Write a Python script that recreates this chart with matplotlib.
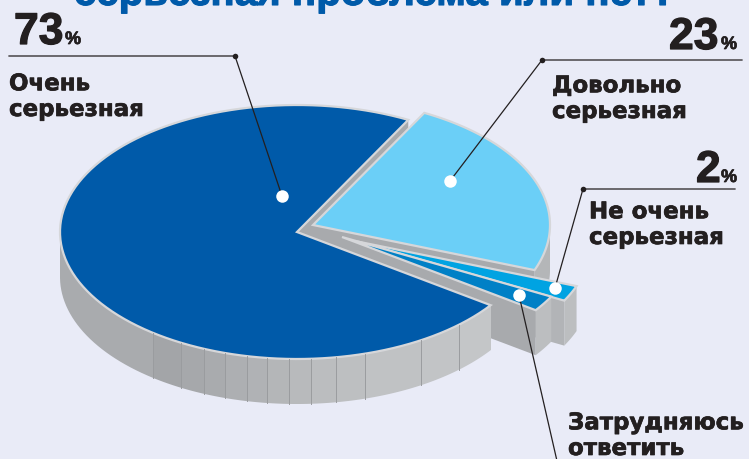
import numpy as np
import matplotlib
matplotlib.use('Agg')
import matplotlib.pyplot as plt
import matplotlib.patheffects as pe
from matplotlib.patches import Polygon

values = [23, 2, 2, 73]
labels = ['Довольно\nсерьезная', 'Не очень\nсерьезная', 'Затрудняюсь\nответить', 'Очень\nсерьезная']
top_colors = ['#6bcff7', '#00a3e2', '#0080c6', '#005aa9']
title = 'серьезная проблема или нет?'

BG = '#e9ebf7'
RIM = '#d6d7da'
FACE = '#a8aaad'
INK = '#231f20'

# ellipse of the pie on screen, in pixels
RX, RY = 237, 127
DEPTH = 45
START = 62
centers = [(313, 226), (355, 242), (342, 238), (297, 233)]

seams_x = [60, 153, 181, 204, 225, 247, 267, 289, 311, 336, 365, 421, 459, 491]
seam_greys = ['#a9abae', '#a3a5a8', '#a6a8ab', '#a9abae', '#adafb2', '#b0b2b5',
              '#b4b6b8', '#b8babc', '#bbbdbf', '#bdbfc1', '#c0c2c4', '#c2c4c6', '#c4c6c8']


def arc(cx, cy, t1, t2, n=120):
    t = np.radians(np.linspace(t1, t2, n))
    return np.column_stack([cx + RX*np.cos(t), cy - RY*np.sin(t)])


def extrude(pts):
    # strip of a line of points pushed down by the pie depth
    return np.vstack([pts, pts[::-1] + [0, DEPTH]])


def cut_face(cx, cy, t):
    return extrude(np.vstack([[cx, cy], arc(cx, cy, t, t, 1)]))


def top(ax, cx, cy, t1, t2, color):
    pts = np.vstack([[cx, cy], arc(cx, cy, t1, t2)])
    ax.add_patch(Polygon(pts, closed=True, fc=color, ec=RIM, lw=1.6, joinstyle='miter'))


fig = plt.figure(figsize=(7.49, 4.6), dpi=100, facecolor=BG)
ax = fig.add_axes([0, 0, 1, 1])
ax.set_xlim(0, 749)
ax.set_ylim(460, 0)
ax.axis('off')

# angles run clockwise from START
ends = START - np.cumsum(values)*3.6
starts = np.r_[START, ends[:-1]]

# cut face of the big slice, seen in the gap next to the light slice
cx, cy = centers[3]
ax.add_patch(Polygon(cut_face(cx, cy, START), fc=FACE, ec='none'))

# light slice
cx, cy = centers[0]
ax.add_patch(Polygon(extrude(arc(cx, cy, ends[0], 0, 40)), fc='#b4b6b8', ec='none'))
ax.add_patch(Polygon(cut_face(cx, cy, ends[0]), fc=FACE, ec='none'))
top(ax, cx, cy, starts[0], ends[0], top_colors[0])

# two small slices
for i in [1, 2]:
    cx, cy = centers[i]
    ax.add_patch(Polygon(cut_face(cx, cy, ends[i]), fc=FACE if i == 2 else '#b2b4b7', ec='none'))
    ax.add_patch(Polygon(extrude(arc(cx, cy, starts[i], ends[i], 12)), fc='#bcbec0', ec='none'))
    top(ax, cx, cy, starts[i], ends[i], top_colors[i])

# outer wall of the big slice, banded
cx, cy = centers[3]
for j in range(len(seam_greys)):
    x0 = max(seams_x[j], cx - RX + 0.01)
    x1 = seams_x[j + 1]
    t0 = -np.degrees(np.arccos(np.clip((x0 - cx)/RX, -1, 1)))
    t1 = -np.degrees(np.arccos(np.clip((x1 - cx)/RX, -1, 1)))
    ax.add_patch(Polygon(extrude(arc(cx, cy, t0, t1, 30)), fc=seam_greys[j], ec='none'))
    if j > 0:
        p = arc(cx, cy, t0, t0, 1)[0]
        ax.plot([p[0], p[0]], [p[1], p[1] + DEPTH], color='#9a9c9f', lw=0.7)
top(ax, cx, cy, starts[3], ends[3], top_colors[3])

# leaders
leaders = [([9, 235, 282], [57, 57, 197]),
           ([742, 542, 450], [61, 61, 182]),
           ([735, 583, 555], [190, 190, 289]),
           ([519, 557], [296, 462])]
for xs, ys in leaders:
    ax.plot(xs, ys, color=INK, lw=0.9, solid_joinstyle='miter')
    if len(xs) == 3:
        ax.plot(xs[1], ys[1], 'o', ms=4, color=INK, mew=0)
for xs, ys in leaders:
    k = -1 if len(xs) == 3 else 0
    ax.plot(xs[k], ys[k], 'o', ms=9, color='white', mew=0)

# text
stroke = [pe.withStroke(linewidth=0.5, foreground=INK)]
ax.text(374, 6, title, color='#005aa9', fontsize=29, fontweight='bold',
        family='Liberation Sans', ha='center', va='baseline',
        path_effects=[pe.withStroke(linewidth=0.8, foreground='#005aa9')])

pcts = [('73', 14, 45), ('23', 669, 50), ('2', 696, 183)]
for s, x, y in pcts:
    ax.text(x, y, s, color=INK, fontsize=32, fontweight='bold', family='Liberation Sans',
            ha='left', va='baseline', path_effects=[pe.withStroke(linewidth=0.9, foreground=INK)])
for x, y in [(65, 45), (721, 50), (721, 183)]:
    ax.text(x, y, '%', color=INK, fontsize=13, fontweight='bold', family='Liberation Sans',
            ha='left', va='baseline', path_effects=stroke)

for s, x, y in [(labels[3], 9, 122), (labels[0], 552, 124), (labels[1], 589, 250), (labels[2], 568, 461)]:
    ax.text(x, y, s, color=INK, fontsize=16.5, fontweight='bold', family='DejaVu Sans',
            ha='left', va='bottom', linespacing=1.15, path_effects=stroke)

fig.savefig('out.png', dpi=100, facecolor=BG)
